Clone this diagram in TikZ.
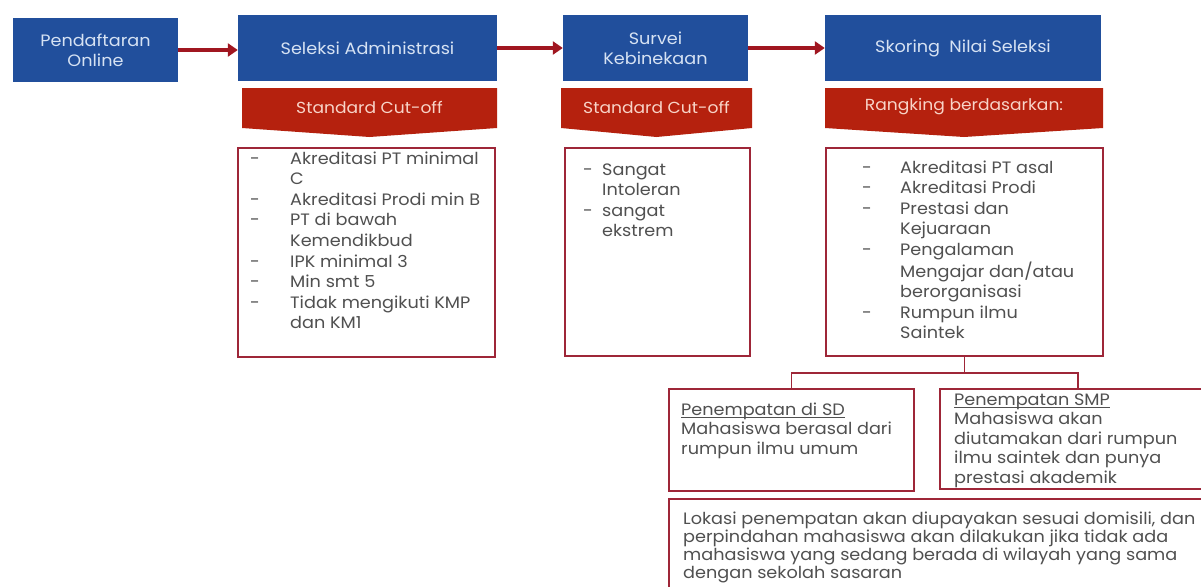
\documentclass[tikz,border=0pt]{standalone}
\usepackage{fontspec}
\setmainfont{Poppins}[FakeStretch=1.07]
\usetikzlibrary{arrows.meta}
\definecolor{hblue}{RGB}{33,79,156}
\definecolor{bred}{RGB}{181,33,14}
\definecolor{arrred}{RGB}{160,22,32}
\definecolor{boxred}{RGB}{158,38,56}
\definecolor{htext}{RGB}{214,226,243}
\definecolor{btext}{RGB}{248,212,200}
\definecolor{gtext}{RGB}{80,80,80}
\newcommand\myul[1]{\setbox0\hbox{#1}\rlap{\rule[-3.2pt]{\wd0}{0.8pt}}\box0}
\begin{document}
\begin{tikzpicture}[x=1pt,y=-1pt,
 head/.style={fill=hblue, draw=none, inner sep=0, text=htext, align=center, font=\fontsize{16.5}{20}\selectfont},
 listbox/.style={draw=boxred, line width=1.8pt, fill=white, inner sep=0, anchor=north west},
 flow/.style={draw=arrred, line width=4pt, -{Triangle[length=10pt,width=13pt]}},
 banner/.style={fill=bred},
 btxt/.style={text=btext, font=\fontsize{16}{18}\selectfont, inner sep=0},
 ltxt/.style={text=gtext, font=\fontsize{16.5}{20.6}\selectfont, inner sep=0, anchor=base west},
 ptxt/.style={text=gtext, font=\fontsize{16.5}{19.5}\selectfont, inner sep=0, anchor=base west},
 conn/.style={draw=boxred, line width=1.8pt}
]
\useasboundingbox (0,0) rectangle (1201,586);
\clip (0,0) rectangle (1201,586);
\fill[white] (0,0) rectangle (1201,586);

% header boxes
\node[head, minimum width=165, minimum height=64] (pend) at (95.5,50) {Pendaftaran\\Online};
\node[head, minimum width=259, minimum height=66] (sel) at (367.5,48) {Seleksi Administrasi};
\node[head, minimum width=185, minimum height=66] (sur) at (655.5,48) {Survei\\Kebinekaan};
\node[head, minimum width=276, minimum height=66] (sko) at (963,48) {Skoring~ Nilai Seleksi};

% arrows
\draw[flow] (pend.east) -- (pend.east -| sel.west);
\draw[flow] (sel.east) -- (sur.west);
\draw[flow] (sur.east) -- (sko.west);

% banners
\fill[banner] (242,88) -- (497,88) -- (497,128) -- (369.5,137) -- (242,128) -- cycle;
\node[btxt] (selban) at (369.5,107) {Standard Cut-off};
\fill[banner] (561,88) -- (752,88) -- (752,128) -- (656.5,137) -- (561,128) -- cycle;
\node[btxt] (surban) at (656.5,107) {Standard Cut-off};
\fill[banner] (825,88) -- (1103,88) -- (1103,128) -- (964,137) -- (825,128) -- cycle;
\node[btxt] (skoban) at (964,107) {Rangking berdasarkan:};

% list boxes
\node[listbox, minimum width=257, minimum height=209] (sellist) at (237,147) {};
\node[listbox, minimum width=185, minimum height=208] (surlist) at (564,147) {};
\node[listbox, minimum width=277, minimum height=208] (skolist) at (825,147) {};

\node[ltxt] (seltxt) at (250,164) {\begin{tabular}[t]{@{}p{40pt}@{}l@{}}
- & Akreditasi PT minimal\\
  & C\\
- & Akreditasi Prodi min B\\
- & PT di bawah\\
  & Kemendikbud\\
- & IPK minimal 3\\
- & Min smt 5\\
- & Tidak mengikuti KMP\\
  & dan KM1
\end{tabular}};

\node[ltxt] (surtxt) at (583,175) {\begin{tabular}[t]{@{}p{19pt}@{}l@{}}
- & Sangat\\
  & Intoleran\\
- & sangat\\
  & ekstrem
\end{tabular}};

\node[ltxt] (skotxt) at (862,173) {\begin{tabular}[t]{@{}p{38pt}@{}l@{}}
- & Akreditasi PT asal\\
- & Akreditasi Prodi\\
- & Prestasi dan\\
  & Kejuaraan\\
- & Pengalaman\\
  & Mengajar dan/atau\\
  & berorganisasi\\
- & Rumpun ilmu\\
  & Saintek
\end{tabular}};

% placement boxes
\node[listbox, minimum width=245, minimum height=102] (sd) at (668,388) {};
\node[listbox, minimum width=276, minimum height=100] (smp) at (939,388) {};
\node[listbox, minimum width=547, minimum height=110] (lok) at (668,498) {};

\coordinate (jn) at (skolist.south |- 0,373);
\draw[conn] (skolist.south) -- (jn);
\draw[conn] (sd.north) |- (jn) -| (smp.north);

\node[ptxt] (sdtxt) at (681,415) {\begin{tabular}[t]{@{}l@{}}
\myul{Penempatan di SD}\\
Mahasiswa berasal dari\\
rumpun ilmu umum
\end{tabular}};

\node[ptxt] (smptxt) at (954,405) {\begin{tabular}[t]{@{}l@{}}
\myul{Penempatan SMP}\\
Mahasiswa akan\\
diutamakan dari rumpun\\
ilmu saintek dan punya\\
prestasi akademik
\end{tabular}};

\node[text=gtext, font=\fontsize{16.5}{18.3}\selectfont, inner sep=0, anchor=base west] (loktxt) at (683,524) {\begin{tabular}[t]{@{}l@{}}
Lokasi penempatan akan diupayakan sesuai domisili, dan\\
perpindahan mahasiswa akan dilakukan jika tidak ada\\
mahasiswa yang sedang berada di wilayah yang sama\\
dengan sekolah sasaran
\end{tabular}};
\end{tikzpicture}
\end{document}
